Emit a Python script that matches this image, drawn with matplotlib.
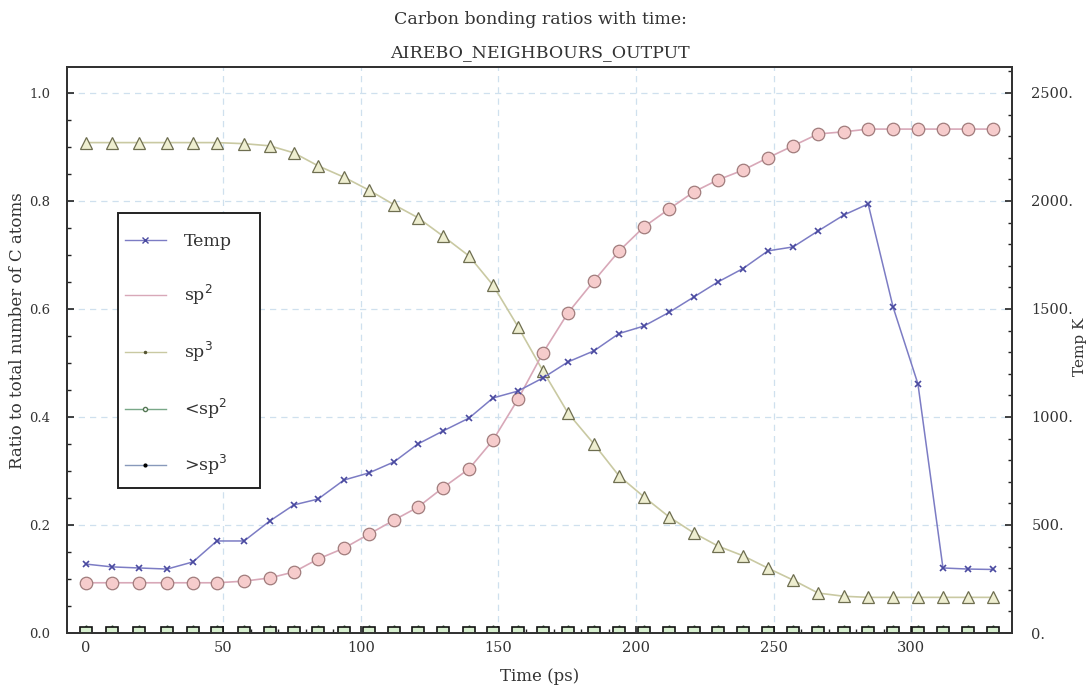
import matplotlib
matplotlib.use('Agg')
import matplotlib.pyplot as plt
from matplotlib.lines import Line2D
from matplotlib.patches import Rectangle
from matplotlib.ticker import MultipleLocator, FuncFormatter

# Simulation output: time (ps), bonding ratios and temperature (K)
time_ps = [0, 9.5, 19.3, 29.5, 38.9, 47.6, 57.5, 66.9, 75.6, 84.4,
           93.8, 102.9, 112.0, 120.7, 129.8, 139.3, 148.0, 157.1, 166.2, 175.3,
           184.7, 193.8, 202.9, 212.0, 221.1, 229.8, 238.9, 248.0, 257.1, 266.2,
           275.6, 284.4, 293.5, 302.5, 311.6, 320.7, 329.8]
sp2 = [0.093, 0.093, 0.093, 0.093, 0.093, 0.093, 0.096, 0.102, 0.113, 0.137,
       0.157, 0.183, 0.209, 0.233, 0.269, 0.304, 0.357, 0.433, 0.519, 0.593,
       0.652, 0.707, 0.752, 0.785, 0.817, 0.839, 0.857, 0.880, 0.902, 0.924,
       0.928, 0.933, 0.933, 0.933, 0.933, 0.933, 0.933]
sp3 = [0.908, 0.908, 0.908, 0.908, 0.908, 0.908, 0.906, 0.902, 0.889, 0.865,
       0.844, 0.820, 0.793, 0.769, 0.735, 0.698, 0.644, 0.567, 0.485, 0.407,
       0.350, 0.291, 0.252, 0.215, 0.185, 0.161, 0.143, 0.120, 0.098, 0.074,
       0.068, 0.066, 0.066, 0.066, 0.066, 0.066, 0.066]
lt_sp2 = [0.0] * len(time_ps)
gt_sp3 = [0.0] * len(time_ps)
temp = [319, 306, 301, 296, 329, 426, 426, 519, 593, 620,
        708, 741, 792, 875, 935, 995, 1088, 1120, 1181, 1255,
        1306, 1386, 1421, 1484, 1556, 1625, 1687, 1769, 1787, 1861,
        1935, 1986, 1507, 1153, 301, 296, 294]

grid_x = [50, 100, 150, 200, 250, 300]
grid_y = [0.2, 0.4, 0.6, 0.8, 1.0]

plt.rcParams['font.family'] = ['DejaVu Serif']
txt = '#333333'

fig = plt.figure(figsize=(10.87, 6.87), dpi=100)
ax = fig.add_axes([0.0616, 0.0786, 0.8694, 0.8239])
ax2 = ax.twinx()

# dashed grid
for gx in grid_x:
    ax.axvline(gx, color='#cfe0ee', ls=(0, (5, 4)), lw=0.9, zorder=0)
for gy in grid_y:
    ax.axhline(gy, color='#cfe0ee', ls=(0, (5, 4)), lw=0.9, zorder=0)

# ratio series
ax.plot(time_ps, sp3, '-', color='#c9c9a2', lw=1.2, marker='^', ms=9,
        mfc='#eeeed0', mec='#6e6e50', mew=0.9, zorder=3)
ax.plot(time_ps, sp2, '-', color='#d8a8b8', lw=1.2, marker='o', ms=9,
        mfc='#f6cccc', mec='#a07c7c', mew=0.9, zorder=3)
ax.plot(time_ps, lt_sp2, '-', color='#79a888', lw=1.2, marker='^', ms=12,
        mfc='#d8f0d0', mec='#6e8a6e', mew=0.9, zorder=4)
ax.plot(time_ps, gt_sp3, '-', color='#8899bb', lw=1.2, marker='s', ms=8,
        mfc='#d8f0d0', mec='#111111', mew=1.2, zorder=4)

# temperature on the right axis
ax2.plot(time_ps, temp, '-', color='#7c7cc4', lw=1.1, marker='x', ms=5,
         mec='#4a4aa0', mew=1.2, zorder=5)

ax.set_xlim(-6.9, 336.7)
ax.set_ylim(0, 1.048)
ax2.set_ylim(0, 2620)

ax.xaxis.set_major_locator(MultipleLocator(50))
ax.xaxis.set_minor_locator(MultipleLocator(10))
ax.yaxis.set_major_locator(MultipleLocator(0.2))
ax.yaxis.set_minor_locator(MultipleLocator(0.05))
ax.yaxis.set_major_formatter(FuncFormatter(lambda v, p: '%.1f' % v))
ax2.yaxis.set_major_locator(MultipleLocator(500))
ax2.yaxis.set_minor_locator(MultipleLocator(100))
ax2.yaxis.set_major_formatter(FuncFormatter(lambda v, p: '%d.' % v))

for a in (ax, ax2):
    a.tick_params(which='both', direction='in', colors='#222222',
                  labelcolor=txt)
    a.tick_params(which='major', length=5, width=1.2)
    a.tick_params(which='minor', length=3, width=1.0)
    for s in a.spines.values():
        s.set_color('#333333')
        s.set_linewidth(1.4)
ax.tick_params(axis='x', pad=6, labelsize=10.5)
ax.tick_params(axis='y', pad=12, labelsize=9.5)
ax2.tick_params(axis='y', pad=14, labelsize=10.5)

ax.set_xlabel('Time (ps)', fontsize=12, color=txt, va='center')
ax.xaxis.set_label_coords(0.5, -0.076)
ax.set_ylabel('Ratio to total number of C atoms', fontsize=12, color=txt, va='center')
ax.yaxis.set_label_coords(-0.052, 0.535)
ax2.set_ylabel('Temp K', fontsize=11, color=txt, va='center')
ax2.yaxis.set_label_coords(1.072, 0.505)

fig.text(0.497, 0.972, 'Carbon bonding ratios with time:', ha='center',
         va='center', fontsize=12.5, color=txt)
fig.text(0.497, 0.923, 'AIREBO_NEIGHBOURS_OUTPUT', ha='center',
         va='center', fontsize=12.5, color=txt)

# legend with a plain square frame
ax.add_patch(Rectangle((0.054, 0.256), 0.150, 0.486, transform=ax.transAxes,
                       fill=True, facecolor='white', edgecolor='#222222',
                       lw=1.4, zorder=6))
handles = [
    Line2D([], [], color='#7c7cc4', lw=1, marker='x', ms=4, mec='#4a4aa0'),
    Line2D([], [], color='#d8a8b8', lw=1),
    Line2D([], [], color='#c9c9a2', lw=1, marker='.', ms=3, mfc='#555533', mec='#555533'),
    Line2D([], [], color='#79a888', lw=1, marker='o', ms=3, mfc='white', mec='#557755'),
    Line2D([], [], color='#8899bb', lw=1, marker='.', ms=4, mfc='black', mec='black'),
]
labels = ['Temp', 'sp$^2$', 'sp$^3$', '<sp$^2$', '>sp$^3$']
leg = ax.legend(handles, labels, loc='upper left', bbox_to_anchor=(0.061, 0.706),
                fontsize=12.5, labelspacing=1.88, handlelength=2.4,
                borderpad=0, handletextpad=1.0, borderaxespad=0,
                frameon=False)
leg.set_zorder(7)
for t in leg.get_texts():
    t.set_color(txt)

fig.savefig('out.png', dpi=100)
